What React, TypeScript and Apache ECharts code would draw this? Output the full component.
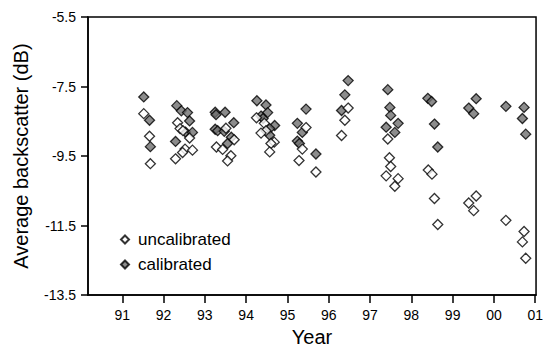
import React, { useEffect, useRef } from "react";
import * as echarts from "echarts";

const yearTicks = [91, 92, 93, 94, 95, 96, 97, 98, 99, 100, 101];
const yTicks = [-13.5, -11.5, -9.5, -7.5, -5.5];

const calibratedYear = [
  91.52, 91.66, 91.68,
  92.32, 92.43, 92.58, 92.63, 92.53, 92.70, 92.29,
  93.25, 93.27, 93.49, 93.70, 93.25, 93.31, 93.47, 93.64, 93.55,
  94.26, 94.48, 94.52, 94.36, 94.41, 94.69, 94.57, 94.57,
  95.45, 95.24, 95.36, 95.24, 95.29, 95.69,
  96.47, 96.39, 96.31,
  97.43, 97.48, 97.50, 97.39, 97.68, 97.60,
  98.40, 98.49, 98.56, 98.64,
  99.57, 99.39, 99.51,
  100.29, 100.73, 100.69, 100.77,
];
const calibratedValue = [
  -7.80, -8.47, -9.23,
  -8.05, -8.20, -8.25, -8.49, -8.81, -8.82, -9.08,
  -8.24, -8.31, -8.24, -8.54, -8.73, -8.77, -8.79, -8.96, -9.14,
  -7.91, -8.03, -8.25, -8.35, -8.42, -8.62, -8.71, -8.90,
  -8.15, -8.56, -8.82, -9.07, -9.14, -9.44,
  -7.33, -7.74, -8.19,
  -7.59, -8.10, -8.33, -8.67, -8.56, -8.82,
  -7.84, -7.93, -8.58, -9.24,
  -7.85, -8.12, -8.28,
  -8.07, -8.10, -8.42, -8.87,
];

const uncalibratedYear = [
  91.52, 91.66, 91.68,
  92.34, 92.40, 92.47, 92.63, 92.52, 92.70, 92.46, 92.29,
  93.51, 93.71, 93.28, 93.43, 93.63, 93.55,
  94.25, 94.44, 94.48, 94.36, 94.68, 94.60, 94.57,
  95.45, 95.36, 95.28, 95.69,
  96.47, 96.39, 96.31,
  97.43, 97.47, 97.50, 97.39, 97.68, 97.60,
  98.41, 98.50, 98.56, 98.64,
  99.57, 99.39, 99.51,
  100.29, 100.73, 100.69, 100.77,
];
const uncalibratedValue = [
  -8.28, -8.93, -9.72,
  -8.54, -8.71, -8.77, -8.98, -9.30, -9.33, -9.40, -9.58,
  -8.70, -9.03, -9.24, -9.31, -9.49, -9.64,
  -8.40, -8.56, -8.77, -8.84, -9.10, -9.14, -9.38,
  -8.68, -9.30, -9.63, -9.96,
  -8.12, -8.47, -8.91,
  -9.01, -9.55, -9.80, -10.07, -10.15, -10.37,
  -9.90, -10.02, -10.72, -11.47,
  -10.65, -10.85, -11.07,
  -11.35, -11.67, -11.97, -12.44,
];

const FONT = "Liberation Sans, Arial, sans-serif";

export default function App() {
  const ref = useRef<HTMLDivElement>(null);
  useEffect(() => {
    if (!ref.current) return;
    const chart = echarts.init(ref.current, undefined, { renderer: "svg" });
    const uncal = uncalibratedYear.map((x, i) => [x, uncalibratedValue[i]]);
    const cal = calibratedYear.map((x, i) => [x, calibratedValue[i]]);
    chart.setOption({
      animation: false,
      backgroundColor: "#ffffff",
      grid: {
        left: 88,
        right: 8,
        top: 17,
        bottom: 48,
        show: true,
        borderColor: "#000",
        borderWidth: 1.5,
        containLabel: false,
      },
      legend: {
        orient: "vertical",
        left: 115,
        top: 226,
        itemWidth: 8,
        itemHeight: 8,
        itemGap: 8,
        textStyle: {
          fontSize: 17,
          lineHeight: 17,
          color: "#000",
          fontFamily: FONT,
          padding: [0, 0, 0, 4],
        },
        data: ["uncalibrated", "calibrated"],
      },
      xAxis: {
        type: "value",
        min: 90.17,
        max: 101.02,
        name: "Year",
        nameLocation: "middle",
        nameGap: 29,
        nameTextStyle: { fontSize: 20, color: "#000", fontFamily: FONT },
        axisLine: { show: true, onZero: false, lineStyle: { color: "#000", width: 1.5 } },
        axisTick: { show: true, length: 8, customValues: yearTicks, lineStyle: { color: "#000", width: 1.5 } },
        axisLabel: {
          customValues: yearTicks,
          margin: 13,
          fontSize: 14,
          color: "#000",
          fontFamily: FONT,
          formatter: (v: number) => String(Math.round(v) % 100).padStart(2, "0"),
        },
        splitLine: { show: false },
      },
      yAxis: {
        type: "value",
        min: -13.5,
        max: -5.5,
        interval: 2,
        name: "Average backscatter (dB)",
        nameLocation: "middle",
        nameGap: 57,
        nameTextStyle: { fontSize: 20, color: "#000", fontFamily: FONT },
        axisLine: { show: true, onZero: false, lineStyle: { color: "#000", width: 1.5 } },
        axisTick: { show: true, length: 7, customValues: yTicks, lineStyle: { color: "#000", width: 1.5 } },
        axisLabel: {
          customValues: yTicks,
          margin: 12,
          fontSize: 14,
          color: "#000",
          fontFamily: FONT,
          formatter: (v: number) => v.toFixed(1),
        },
        splitLine: { show: false },
      },
      series: [
        {
          name: "calibrated",
          type: "scatter",
          symbol: "diamond",
          symbolSize: 10,
          itemStyle: { color: "#6f6f6f", borderColor: "#000", borderWidth: 1.3 },
          data: cal,
          z: 2,
        },
        {
          name: "uncalibrated",
          type: "scatter",
          symbol: "diamond",
          symbolSize: 10,
          itemStyle: { color: "#ffffff", borderColor: "#000", borderWidth: 1.3 },
          data: uncal,
          z: 3,
        },
      ],
    });
    return () => chart.dispose();
  }, []);
  return (
    <div
      ref={ref}
      style={{ position: "fixed", left: 0, top: 0, width: 546, height: 352, background: "#fff" }}
    />
  );
}
